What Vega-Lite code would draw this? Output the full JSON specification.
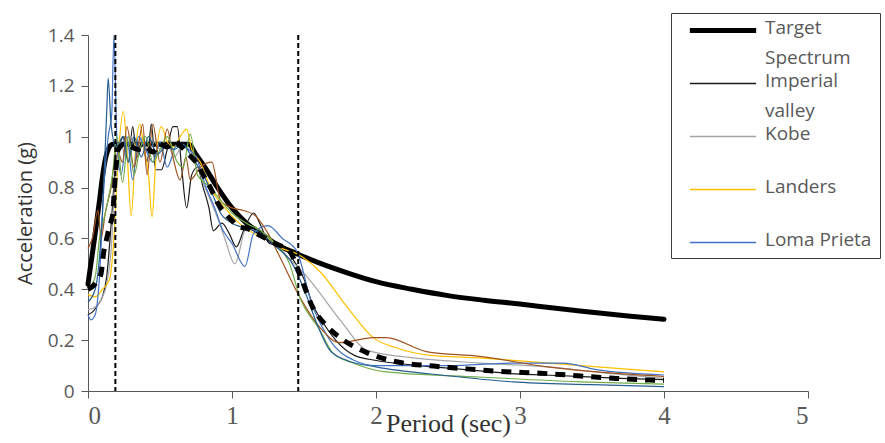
{
  "$schema": "https://vega.github.io/schema/vega-lite/v6.json",
  "width": 720,
  "height": 356,
  "autosize": {"type": "none"},
  "padding": {"left": 88, "top": 35, "right": 77, "bottom": 52},
  "background": "white",
  "config": {
    "view": {"stroke": null},
    "axis": {"grid": false, "domainColor": "#595959", "tickColor": "#595959", "tickSize": 7, "labelColor": "#595959"},
    "legend": {"symbolType": "stroke"}
  },
  "datasets": {
    "curves": [
      {"s":"Target Spectrum","T":0,"Sa":0.42},{"s":"Target Spectrum","T":0.02,"Sa":0.5},{"s":"Target Spectrum","T":0.05,"Sa":0.62},{"s":"Target Spectrum","T":0.08,"Sa":0.75},{"s":"Target Spectrum","T":0.1,"Sa":0.84},{"s":"Target Spectrum","T":0.12,"Sa":0.91},{"s":"Target Spectrum","T":0.14,"Sa":0.95},{"s":"Target Spectrum","T":0.17,"Sa":0.97},{"s":"Target Spectrum","T":0.7,"Sa":0.97},{"s":"Target Spectrum","T":0.75,"Sa":0.93},{"s":"Target Spectrum","T":0.8,"Sa":0.89},{"s":"Target Spectrum","T":0.9,"Sa":0.8},{"s":"Target Spectrum","T":1.0,"Sa":0.72},{"s":"Target Spectrum","T":1.1,"Sa":0.66},{"s":"Target Spectrum","T":1.2,"Sa":0.62},{"s":"Target Spectrum","T":1.3,"Sa":0.58},{"s":"Target Spectrum","T":1.45,"Sa":0.54},{"s":"Target Spectrum","T":1.6,"Sa":0.505},{"s":"Target Spectrum","T":1.8,"Sa":0.465},{"s":"Target Spectrum","T":2.0,"Sa":0.43},{"s":"Target Spectrum","T":2.25,"Sa":0.4},{"s":"Target Spectrum","T":2.5,"Sa":0.375},{"s":"Target Spectrum","T":2.75,"Sa":0.357},{"s":"Target Spectrum","T":3.0,"Sa":0.342},{"s":"Target Spectrum","T":3.25,"Sa":0.325},{"s":"Target Spectrum","T":3.5,"Sa":0.31},{"s":"Target Spectrum","T":3.75,"Sa":0.295},{"s":"Target Spectrum","T":4.0,"Sa":0.282},

      {"s":"Imperial valley","T":0,"Sa":0.3},{"s":"Imperial valley","T":0.03,"Sa":0.31},{"s":"Imperial valley","T":0.07,"Sa":0.34},{"s":"Imperial valley","T":0.1,"Sa":0.37},{"s":"Imperial valley","T":0.13,"Sa":0.45},{"s":"Imperial valley","T":0.16,"Sa":0.65},{"s":"Imperial valley","T":0.19,"Sa":0.88},{"s":"Imperial valley","T":0.22,"Sa":0.97},{"s":"Imperial valley","T":0.25,"Sa":1.0},{"s":"Imperial valley","T":0.28,"Sa":0.9},{"s":"Imperial valley","T":0.31,"Sa":1.04},{"s":"Imperial valley","T":0.34,"Sa":0.92},{"s":"Imperial valley","T":0.38,"Sa":0.97},{"s":"Imperial valley","T":0.41,"Sa":0.9},{"s":"Imperial valley","T":0.44,"Sa":1.05},{"s":"Imperial valley","T":0.47,"Sa":0.87},{"s":"Imperial valley","T":0.51,"Sa":0.87},{"s":"Imperial valley","T":0.55,"Sa":0.95},{"s":"Imperial valley","T":0.59,"Sa":1.04},{"s":"Imperial valley","T":0.62,"Sa":1.04},{"s":"Imperial valley","T":0.65,"Sa":0.88},{"s":"Imperial valley","T":0.685,"Sa":0.72},{"s":"Imperial valley","T":0.72,"Sa":0.85},{"s":"Imperial valley","T":0.76,"Sa":0.88},{"s":"Imperial valley","T":0.8,"Sa":0.8},{"s":"Imperial valley","T":0.84,"Sa":0.72},{"s":"Imperial valley","T":0.87,"Sa":0.63},{"s":"Imperial valley","T":0.93,"Sa":0.66},{"s":"Imperial valley","T":0.98,"Sa":0.62},{"s":"Imperial valley","T":1.03,"Sa":0.567},{"s":"Imperial valley","T":1.08,"Sa":0.63},{"s":"Imperial valley","T":1.15,"Sa":0.7},{"s":"Imperial valley","T":1.2,"Sa":0.65},{"s":"Imperial valley","T":1.26,"Sa":0.58},{"s":"Imperial valley","T":1.35,"Sa":0.57},{"s":"Imperial valley","T":1.42,"Sa":0.52},{"s":"Imperial valley","T":1.5,"Sa":0.44},{"s":"Imperial valley","T":1.56,"Sa":0.34},{"s":"Imperial valley","T":1.62,"Sa":0.28},{"s":"Imperial valley","T":1.72,"Sa":0.2},{"s":"Imperial valley","T":1.85,"Sa":0.14},{"s":"Imperial valley","T":2.0,"Sa":0.12},{"s":"Imperial valley","T":2.3,"Sa":0.1},{"s":"Imperial valley","T":2.6,"Sa":0.085},{"s":"Imperial valley","T":2.9,"Sa":0.07},{"s":"Imperial valley","T":3.3,"Sa":0.06},{"s":"Imperial valley","T":3.7,"Sa":0.05},{"s":"Imperial valley","T":4.0,"Sa":0.045},

      {"s":"Kobe","T":0,"Sa":0.32},{"s":"Kobe","T":0.05,"Sa":0.33},{"s":"Kobe","T":0.1,"Sa":0.37},{"s":"Kobe","T":0.13,"Sa":0.42},{"s":"Kobe","T":0.16,"Sa":0.55},{"s":"Kobe","T":0.19,"Sa":0.85},{"s":"Kobe","T":0.22,"Sa":0.98},{"s":"Kobe","T":0.26,"Sa":0.93},{"s":"Kobe","T":0.3,"Sa":1.0},{"s":"Kobe","T":0.34,"Sa":0.95},{"s":"Kobe","T":0.38,"Sa":1.0},{"s":"Kobe","T":0.42,"Sa":0.93},{"s":"Kobe","T":0.46,"Sa":0.98},{"s":"Kobe","T":0.5,"Sa":0.95},{"s":"Kobe","T":0.55,"Sa":0.97},{"s":"Kobe","T":0.6,"Sa":0.92},{"s":"Kobe","T":0.65,"Sa":0.96},{"s":"Kobe","T":0.7,"Sa":0.95},{"s":"Kobe","T":0.75,"Sa":0.9},{"s":"Kobe","T":0.8,"Sa":0.82},{"s":"Kobe","T":0.85,"Sa":0.75},{"s":"Kobe","T":0.9,"Sa":0.68},{"s":"Kobe","T":0.95,"Sa":0.6},{"s":"Kobe","T":1.02,"Sa":0.5},{"s":"Kobe","T":1.1,"Sa":0.64},{"s":"Kobe","T":1.2,"Sa":0.62},{"s":"Kobe","T":1.3,"Sa":0.58},{"s":"Kobe","T":1.4,"Sa":0.52},{"s":"Kobe","T":1.52,"Sa":0.45},{"s":"Kobe","T":1.75,"Sa":0.28},{"s":"Kobe","T":1.94,"Sa":0.16},{"s":"Kobe","T":2.26,"Sa":0.13},{"s":"Kobe","T":2.72,"Sa":0.11},{"s":"Kobe","T":3.19,"Sa":0.095},{"s":"Kobe","T":3.65,"Sa":0.067},{"s":"Kobe","T":4.0,"Sa":0.05},

      {"s":"Landers","T":0,"Sa":0.38},{"s":"Landers","T":0.05,"Sa":0.37},{"s":"Landers","T":0.1,"Sa":0.4},{"s":"Landers","T":0.15,"Sa":0.44},{"s":"Landers","T":0.18,"Sa":0.6},{"s":"Landers","T":0.21,"Sa":0.92},{"s":"Landers","T":0.245,"Sa":1.1},{"s":"Landers","T":0.27,"Sa":0.95},{"s":"Landers","T":0.3,"Sa":0.69},{"s":"Landers","T":0.33,"Sa":0.95},{"s":"Landers","T":0.36,"Sa":1.05},{"s":"Landers","T":0.39,"Sa":0.95},{"s":"Landers","T":0.42,"Sa":0.85},{"s":"Landers","T":0.445,"Sa":0.685},{"s":"Landers","T":0.47,"Sa":0.9},{"s":"Landers","T":0.51,"Sa":1.04},{"s":"Landers","T":0.55,"Sa":0.98},{"s":"Landers","T":0.6,"Sa":0.96},{"s":"Landers","T":0.64,"Sa":1.0},{"s":"Landers","T":0.685,"Sa":1.03},{"s":"Landers","T":0.72,"Sa":0.95},{"s":"Landers","T":0.78,"Sa":0.9},{"s":"Landers","T":0.85,"Sa":0.8},{"s":"Landers","T":0.95,"Sa":0.72},{"s":"Landers","T":1.05,"Sa":0.66},{"s":"Landers","T":1.15,"Sa":0.62},{"s":"Landers","T":1.25,"Sa":0.6},{"s":"Landers","T":1.35,"Sa":0.56},{"s":"Landers","T":1.45,"Sa":0.54},{"s":"Landers","T":1.61,"Sa":0.47},{"s":"Landers","T":1.8,"Sa":0.33},{"s":"Landers","T":1.98,"Sa":0.21},{"s":"Landers","T":2.14,"Sa":0.17},{"s":"Landers","T":2.38,"Sa":0.14},{"s":"Landers","T":2.72,"Sa":0.13},{"s":"Landers","T":3.19,"Sa":0.11},{"s":"Landers","T":3.65,"Sa":0.09},{"s":"Landers","T":4.0,"Sa":0.075},

      {"s":"Loma Prieta","T":0,"Sa":0.3},{"s":"Loma Prieta","T":0.02,"Sa":0.28},{"s":"Loma Prieta","T":0.05,"Sa":0.3},{"s":"Loma Prieta","T":0.08,"Sa":0.45},{"s":"Loma Prieta","T":0.11,"Sa":0.8},{"s":"Loma Prieta","T":0.14,"Sa":1.0},{"s":"Loma Prieta","T":0.165,"Sa":1.09},{"s":"Loma Prieta","T":0.18,"Sa":1.4},{"s":"Loma Prieta","T":0.2,"Sa":1.0},{"s":"Loma Prieta","T":0.23,"Sa":0.85},{"s":"Loma Prieta","T":0.27,"Sa":1.0},{"s":"Loma Prieta","T":0.31,"Sa":0.83},{"s":"Loma Prieta","T":0.35,"Sa":1.0},{"s":"Loma Prieta","T":0.4,"Sa":0.95},{"s":"Loma Prieta","T":0.45,"Sa":0.9},{"s":"Loma Prieta","T":0.5,"Sa":0.98},{"s":"Loma Prieta","T":0.55,"Sa":0.88},{"s":"Loma Prieta","T":0.62,"Sa":0.97},{"s":"Loma Prieta","T":0.7,"Sa":0.95},{"s":"Loma Prieta","T":0.75,"Sa":0.92},{"s":"Loma Prieta","T":0.82,"Sa":0.8},{"s":"Loma Prieta","T":0.88,"Sa":0.72},{"s":"Loma Prieta","T":0.93,"Sa":0.64},{"s":"Loma Prieta","T":1.0,"Sa":0.58},{"s":"Loma Prieta","T":1.09,"Sa":0.49},{"s":"Loma Prieta","T":1.15,"Sa":0.62},{"s":"Loma Prieta","T":1.25,"Sa":0.65},{"s":"Loma Prieta","T":1.35,"Sa":0.6},{"s":"Loma Prieta","T":1.45,"Sa":0.55},{"s":"Loma Prieta","T":1.55,"Sa":0.35},{"s":"Loma Prieta","T":1.68,"Sa":0.2},{"s":"Loma Prieta","T":1.85,"Sa":0.12},{"s":"Loma Prieta","T":2.0,"Sa":0.1},{"s":"Loma Prieta","T":2.5,"Sa":0.1},{"s":"Loma Prieta","T":2.95,"Sa":0.11},{"s":"Loma Prieta","T":3.3,"Sa":0.11},{"s":"Loma Prieta","T":3.53,"Sa":0.084},{"s":"Loma Prieta","T":4.0,"Sa":0.063},

      {"s":"Series 6","T":0,"Sa":0.56},{"s":"Series 6","T":0.03,"Sa":0.6},{"s":"Series 6","T":0.07,"Sa":0.71},{"s":"Series 6","T":0.09,"Sa":0.6},{"s":"Series 6","T":0.12,"Sa":0.7},{"s":"Series 6","T":0.16,"Sa":0.8},{"s":"Series 6","T":0.2,"Sa":0.95},{"s":"Series 6","T":0.24,"Sa":0.9},{"s":"Series 6","T":0.27,"Sa":1.04},{"s":"Series 6","T":0.32,"Sa":0.88},{"s":"Series 6","T":0.36,"Sa":1.0},{"s":"Series 6","T":0.38,"Sa":1.05},{"s":"Series 6","T":0.41,"Sa":0.85},{"s":"Series 6","T":0.45,"Sa":1.05},{"s":"Series 6","T":0.5,"Sa":0.9},{"s":"Series 6","T":0.55,"Sa":1.03},{"s":"Series 6","T":0.59,"Sa":0.92},{"s":"Series 6","T":0.64,"Sa":0.83},{"s":"Series 6","T":0.68,"Sa":0.92},{"s":"Series 6","T":0.71,"Sa":0.83},{"s":"Series 6","T":0.78,"Sa":0.88},{"s":"Series 6","T":0.86,"Sa":0.9},{"s":"Series 6","T":0.92,"Sa":0.75},{"s":"Series 6","T":1.0,"Sa":0.72},{"s":"Series 6","T":1.08,"Sa":0.71},{"s":"Series 6","T":1.17,"Sa":0.685},{"s":"Series 6","T":1.25,"Sa":0.62},{"s":"Series 6","T":1.33,"Sa":0.53},{"s":"Series 6","T":1.47,"Sa":0.37},{"s":"Series 6","T":1.61,"Sa":0.25},{"s":"Series 6","T":1.75,"Sa":0.19},{"s":"Series 6","T":1.98,"Sa":0.21},{"s":"Series 6","T":2.07,"Sa":0.21},{"s":"Series 6","T":2.35,"Sa":0.155},{"s":"Series 6","T":2.72,"Sa":0.136},{"s":"Series 6","T":3.19,"Sa":0.095},{"s":"Series 6","T":3.65,"Sa":0.07},{"s":"Series 6","T":4.0,"Sa":0.057},

      {"s":"Series 7","T":0,"Sa":0.4},{"s":"Series 7","T":0.05,"Sa":0.45},{"s":"Series 7","T":0.08,"Sa":0.6},{"s":"Series 7","T":0.12,"Sa":0.7},{"s":"Series 7","T":0.17,"Sa":0.85},{"s":"Series 7","T":0.2,"Sa":1.0},{"s":"Series 7","T":0.24,"Sa":0.82},{"s":"Series 7","T":0.28,"Sa":1.0},{"s":"Series 7","T":0.32,"Sa":0.85},{"s":"Series 7","T":0.36,"Sa":0.95},{"s":"Series 7","T":0.4,"Sa":1.0},{"s":"Series 7","T":0.45,"Sa":0.9},{"s":"Series 7","T":0.5,"Sa":0.95},{"s":"Series 7","T":0.55,"Sa":1.0},{"s":"Series 7","T":0.62,"Sa":0.9},{"s":"Series 7","T":0.66,"Sa":0.88},{"s":"Series 7","T":0.71,"Sa":1.01},{"s":"Series 7","T":0.76,"Sa":0.85},{"s":"Series 7","T":0.85,"Sa":0.8},{"s":"Series 7","T":0.92,"Sa":0.75},{"s":"Series 7","T":1.0,"Sa":0.7},{"s":"Series 7","T":1.1,"Sa":0.66},{"s":"Series 7","T":1.2,"Sa":0.63},{"s":"Series 7","T":1.3,"Sa":0.58},{"s":"Series 7","T":1.4,"Sa":0.5},{"s":"Series 7","T":1.47,"Sa":0.37},{"s":"Series 7","T":1.61,"Sa":0.24},{"s":"Series 7","T":1.7,"Sa":0.15},{"s":"Series 7","T":1.84,"Sa":0.11},{"s":"Series 7","T":2.07,"Sa":0.075},{"s":"Series 7","T":2.72,"Sa":0.055},{"s":"Series 7","T":3.42,"Sa":0.036},{"s":"Series 7","T":4.0,"Sa":0.027},

      {"s":"Series 8","T":0,"Sa":0.35},{"s":"Series 8","T":0.05,"Sa":0.4},{"s":"Series 8","T":0.1,"Sa":0.7},{"s":"Series 8","T":0.13,"Sa":1.1},{"s":"Series 8","T":0.14,"Sa":1.23},{"s":"Series 8","T":0.16,"Sa":1.05},{"s":"Series 8","T":0.2,"Sa":0.95},{"s":"Series 8","T":0.24,"Sa":1.0},{"s":"Series 8","T":0.28,"Sa":0.9},{"s":"Series 8","T":0.32,"Sa":1.0},{"s":"Series 8","T":0.37,"Sa":0.92},{"s":"Series 8","T":0.42,"Sa":1.0},{"s":"Series 8","T":0.48,"Sa":0.93},{"s":"Series 8","T":0.54,"Sa":0.96},{"s":"Series 8","T":0.6,"Sa":0.95},{"s":"Series 8","T":0.66,"Sa":0.97},{"s":"Series 8","T":0.72,"Sa":0.92},{"s":"Series 8","T":0.8,"Sa":0.85},{"s":"Series 8","T":0.86,"Sa":0.78},{"s":"Series 8","T":0.92,"Sa":0.7},{"s":"Series 8","T":1.0,"Sa":0.66},{"s":"Series 8","T":1.1,"Sa":0.64},{"s":"Series 8","T":1.2,"Sa":0.62},{"s":"Series 8","T":1.3,"Sa":0.57},{"s":"Series 8","T":1.42,"Sa":0.5},{"s":"Series 8","T":1.5,"Sa":0.4},{"s":"Series 8","T":1.6,"Sa":0.25},{"s":"Series 8","T":1.68,"Sa":0.16},{"s":"Series 8","T":1.8,"Sa":0.12},{"s":"Series 8","T":2.0,"Sa":0.095},{"s":"Series 8","T":2.5,"Sa":0.06},{"s":"Series 8","T":2.95,"Sa":0.036},{"s":"Series 8","T":3.5,"Sa":0.025},{"s":"Series 8","T":4.0,"Sa":0.017},

      {"s":"Mean","T":0,"Sa":0.4},{"s":"Mean","T":0.03,"Sa":0.41},{"s":"Mean","T":0.06,"Sa":0.43},{"s":"Mean","T":0.09,"Sa":0.46},{"s":"Mean","T":0.11,"Sa":0.55},{"s":"Mean","T":0.13,"Sa":0.6},{"s":"Mean","T":0.15,"Sa":0.65},{"s":"Mean","T":0.17,"Sa":0.69},{"s":"Mean","T":0.19,"Sa":0.85},{"s":"Mean","T":0.21,"Sa":0.95},{"s":"Mean","T":0.25,"Sa":0.97},{"s":"Mean","T":0.3,"Sa":0.96},{"s":"Mean","T":0.35,"Sa":0.95},{"s":"Mean","T":0.4,"Sa":0.96},{"s":"Mean","T":0.45,"Sa":0.94},{"s":"Mean","T":0.5,"Sa":0.97},{"s":"Mean","T":0.55,"Sa":0.96},{"s":"Mean","T":0.6,"Sa":0.98},{"s":"Mean","T":0.65,"Sa":0.96},{"s":"Mean","T":0.7,"Sa":0.93},{"s":"Mean","T":0.75,"Sa":0.9},{"s":"Mean","T":0.8,"Sa":0.85},{"s":"Mean","T":0.85,"Sa":0.8},{"s":"Mean","T":0.9,"Sa":0.74},{"s":"Mean","T":0.95,"Sa":0.7},{"s":"Mean","T":1.0,"Sa":0.67},{"s":"Mean","T":1.05,"Sa":0.645},{"s":"Mean","T":1.1,"Sa":0.64},{"s":"Mean","T":1.2,"Sa":0.61},{"s":"Mean","T":1.3,"Sa":0.58},{"s":"Mean","T":1.4,"Sa":0.55},{"s":"Mean","T":1.47,"Sa":0.46},{"s":"Mean","T":1.56,"Sa":0.33},{"s":"Mean","T":1.65,"Sa":0.26},{"s":"Mean","T":1.75,"Sa":0.21},{"s":"Mean","T":1.94,"Sa":0.15},{"s":"Mean","T":2.15,"Sa":0.114},{"s":"Mean","T":2.4,"Sa":0.098},{"s":"Mean","T":2.65,"Sa":0.086},{"s":"Mean","T":2.9,"Sa":0.076},{"s":"Mean","T":3.14,"Sa":0.07},{"s":"Mean","T":3.4,"Sa":0.06},{"s":"Mean","T":3.65,"Sa":0.05},{"s":"Mean","T":3.9,"Sa":0.043},{"s":"Mean","T":4.0,"Sa":0.042}
    ],
    "limits": [{"T": 0.19}, {"T": 1.46}]
  },
  "layer": [
    {
      "data": {"name": "curves"},
      "transform": [{"filter": "datum.s == 'Target Spectrum'"}],
      "mark": {"type": "line", "strokeWidth": 5, "interpolate": "monotone", "strokeCap": "round"},
      "encoding": {
        "x": {"field": "T", "type": "quantitative", "scale": {"domain": [0, 5], "nice": false},
              "axis": {"values": [0, 1, 2, 3, 4, 5], "format": "~g", "title": "Period (sec)", "labelFont": "Liberation Serif", "labelFontSize": 25, "labelPadding": 5,
                       "titleFont": "Liberation Serif", "titleFontSize": 26, "titleFontWeight": "normal", "titleColor": "#333333", "titlePadding": -18}},
        "y": {"field": "Sa", "type": "quantitative", "scale": {"domain": [0, 1.4], "nice": false},
              "axis": {"values": [0, 0.2, 0.4, 0.6, 0.8, 1, 1.2, 1.4], "format": "~g", "title": "Acceleration (g)", "labelFont": "Open Sans", "labelFontSize": 19, "labelPadding": 7,
                       "titleFont": "Open Sans", "titleFontSize": 20, "titleFontWeight": "normal", "titleColor": "#333333", "titlePadding": 12}},
        "color": {"field": "s", "type": "nominal",
                  "scale": {"domain": ["Target Spectrum", "Imperial valley", "Kobe", "Landers", "Loma Prieta", "Series 6", "Series 7", "Series 8", "Mean"],
                            "range": ["#000000", "#1a1a1a", "#A5A5A5", "#FFC000", "#4472C4", "#A0521E", "#70AD47", "#255E91", "#000000"]},
                  "legend": {"title": null, "values": ["Target Spectrum", "Imperial valley", "Kobe", "Landers", "Loma Prieta"],
                             "orient": "none", "legendX": 583, "legendY": -22, "direction": "vertical",
                             "strokeColor": "#404040", "fillColor": "white", "padding": 8,
                             "symbolType": "stroke", "symbolSize": 4400, "symbolStrokeWidth": 1.3,
                             "labelFont": "Open Sans", "labelFontSize": 19, "labelColor": "#595959", "labelLimit": 300,
                             "labelBaseline": "top", "gridAlign": "all", "rowPadding": 3,
                             "labelExpr": "datum.label == 'Target Spectrum' ? ['Target', 'Spectrum'] : datum.label == 'Imperial valley' ? ['Imperial', 'valley'] : datum.label",
                             "encode": {
                               "symbols": {"update": {"x": {"value": 44}, "strokeWidth": {"signal": "datum.value == 'Target Spectrum' ? 5 : 1.3"}}},
                               "labels": {"update": {"x": {"value": 86}, "dy": {"value": -12}, "lineHeight": {"value": 30}}}
                             }}}
      }
    },
    {
      "data": {"name": "curves"},
      "transform": [{"filter": "datum.s != 'Target Spectrum' && datum.s != 'Mean'"}],
      "mark": {"type": "line", "strokeWidth": 1.2, "interpolate": "monotone"},
      "encoding": {
        "x": {"field": "T", "type": "quantitative"},
        "y": {"field": "Sa", "type": "quantitative"},
        "color": {"field": "s", "type": "nominal"}
      }
    },
    {
      "data": {"name": "curves"},
      "transform": [{"filter": "datum.s == 'Mean'"}],
      "mark": {"type": "line", "strokeWidth": 5, "strokeDash": [10, 8], "interpolate": "monotone"},
      "encoding": {
        "x": {"field": "T", "type": "quantitative"},
        "y": {"field": "Sa", "type": "quantitative"},
        "color": {"field": "s", "type": "nominal"}
      }
    },
    {
      "data": {"name": "limits"},
      "mark": {"type": "rule", "color": "black", "strokeWidth": 2, "strokeDash": [5, 3]},
      "encoding": {
        "x": {"field": "T", "type": "quantitative"}
      }
    }
  ]
}
